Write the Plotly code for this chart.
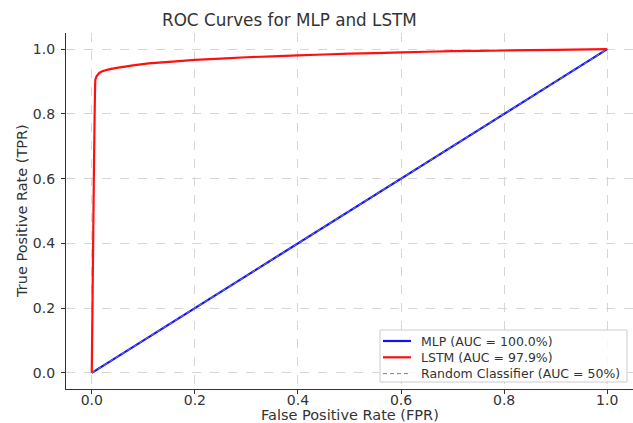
import plotly.graph_objects as go

# ROC points
mlp_fpr = [0.0, 1.0]
mlp_tpr = [0.0, 1.0]

lstm_fpr = [0.0, 0.003, 0.007, 0.009, 0.012, 0.016, 0.025, 0.04, 0.055, 0.08, 0.11, 0.15, 0.2, 0.3, 0.4, 0.5, 0.6, 0.7, 0.8, 0.9, 1.0]
lstm_tpr = [0.0, 0.45, 0.905, 0.915, 0.922, 0.928, 0.934, 0.940, 0.944, 0.950, 0.956, 0.961, 0.967, 0.975, 0.981, 0.986, 0.99, 0.994, 0.996, 0.998, 1.0]

rand_fpr = [0.0, 1.0]
rand_tpr = [0.0, 1.0]

labels = ["MLP (AUC = 100.0%)", "LSTM (AUC = 97.9%)", "Random Classifier (AUC = 50%)"]
tick_vals = [0.0, 0.2, 0.4, 0.6, 0.8, 1.0]

font_family = "DejaVu Sans"
text_col = "#333333"
colors = ["#1010ff", "#ff1010", "#808080"]
widths = [2.2, 2.2, 1]
dashes = ["solid", "solid", "4px,3px"]

W, H = 633, 423
L, R, T, B = 66, 0, 33, 34
PW, PH = W - L - R, H - T - B


def px_x(p):
    return (p - L) / PW


def px_y(p):
    return (H - B - p) / PH


fig = go.Figure()
fig.add_trace(go.Scatter(x=mlp_fpr, y=mlp_tpr, mode="lines", name=labels[0],
                         line=dict(color=colors[0], width=widths[0])))
fig.add_trace(go.Scatter(x=lstm_fpr, y=lstm_tpr, mode="lines", name=labels[1],
                         line=dict(color=colors[1], width=widths[1], shape="spline", smoothing=0.3)))
fig.add_trace(go.Scatter(x=rand_fpr, y=rand_tpr, mode="lines", name=labels[2],
                         line=dict(color=colors[2], width=widths[2], dash=dashes[2])))

axis_common = dict(
    showline=True, linecolor="#333333", linewidth=1.3, mirror=False,
    ticks="outside", ticklen=4, tickwidth=1, tickcolor="#333333",
    showgrid=True, gridcolor="#d6d6d6", gridwidth=1, griddash="dash",
    zeroline=False, tickvals=tick_vals, tickformat=".1f", automargin=False,
    tickfont=dict(family=font_family, size=14, color=text_col),
)

# compact legend box in the lower right of the axes
shapes = [dict(type="rect", xref="paper", yref="paper",
               x0=px_x(380), x1=px_x(627), y0=px_y(382), y1=px_y(330),
               line=dict(color="#cccccc", width=1), fillcolor="rgba(255,255,255,0.85)",
               layer="above")]
annotations = []
for i, lab in enumerate(labels):
    ry = 341 + i * 16.3
    shapes.append(dict(type="line", xref="paper", yref="paper",
                       x0=px_x(383), x1=px_x(411), y0=px_y(ry), y1=px_y(ry),
                       line=dict(color=colors[i], width=widths[i] if i < 2 else 1, dash=dashes[i]),
                       layer="above"))
    annotations.append(dict(text=lab, xref="paper", yref="paper", x=px_x(419), y=px_y(ry),
                            xanchor="left", yanchor="middle", showarrow=False,
                            font=dict(family=font_family, size=12.5, color=text_col)))

annotations += [
    dict(text="ROC Curves for MLP and LSTM", xref="paper", yref="paper",
         x=px_x(289), y=1.0, yshift=13, xanchor="center", yanchor="middle",
         showarrow=False, font=dict(family=font_family, size=16.8, color=text_col)),
    dict(text="False Positive Rate (FPR)", xref="paper", yref="paper",
         x=0.5, y=0.0, yshift=-26, xanchor="center", yanchor="middle",
         showarrow=False, font=dict(family=font_family, size=14.5, color=text_col)),
    dict(text="True Positive Rate (TPR)", xref="paper", yref="paper",
         x=0.0, y=0.5, xshift=-44, xanchor="center", yanchor="middle", textangle=-90,
         showarrow=False, font=dict(family=font_family, size=14.5, color=text_col)),
]

fig.update_layout(
    width=W, height=H,
    margin=dict(l=L, r=R, t=T, b=B),
    paper_bgcolor="white", plot_bgcolor="white",
    font=dict(family=font_family, color=text_col),
    xaxis=dict(range=[-0.05, 1.05], ticklabelstandoff=-6, **axis_common),
    yaxis=dict(range=[-0.05, 1.05], ticklabelstandoff=3, **axis_common),
    showlegend=False,
    shapes=shapes,
    annotations=annotations,
)

fig.write_html("out.html")
